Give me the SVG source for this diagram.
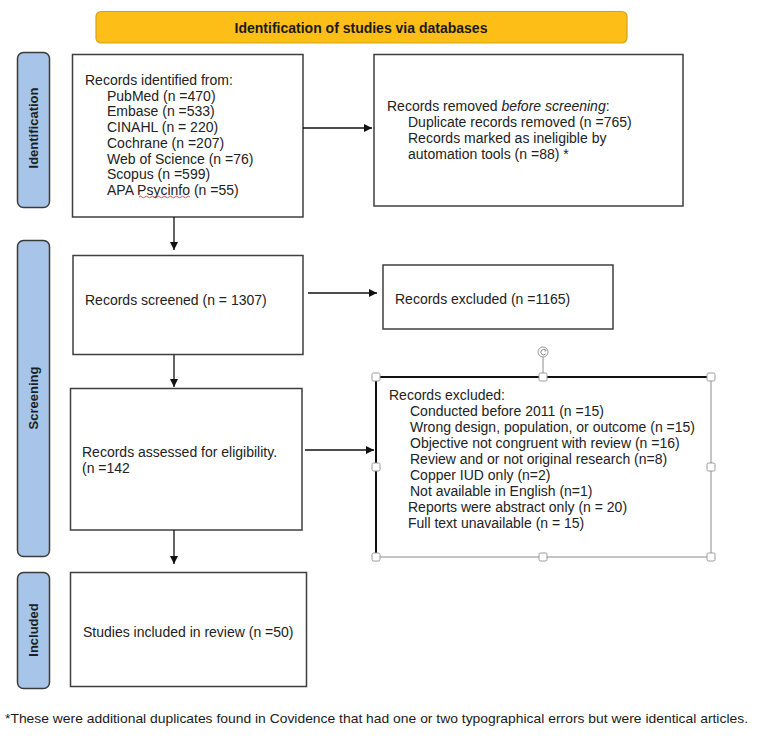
<svg xmlns="http://www.w3.org/2000/svg" width="768" height="753" viewBox="0 0 768 753">
<defs>
<style>
.box{fill:#fff;stroke:#3f3f3f;stroke-width:1.5}
.side{fill:#a7c5e8;stroke:#3a3a3a;stroke-width:1.5}
.t{font-family:"Liberation Sans",Arial,sans-serif;font-size:14px;fill:#222}
.sl{font-family:"Liberation Sans",Arial,sans-serif;font-size:13px;font-weight:bold;fill:#1b1f26}
.ln{stroke:#111;stroke-width:1.3;fill:none}
.hd{fill:#fff;stroke:#9a9a9a;stroke-width:1}
</style>
<marker id="ah" viewBox="0 0 10 10" refX="10" refY="5" markerWidth="8" markerHeight="8" markerUnits="userSpaceOnUse" orient="auto">
<path d="M0,0 L10,5 L0,10 Z" fill="#111"/>
</marker>
</defs>
<rect width="768" height="753" fill="#fff"/>

<g id="banner">
<rect x="96" y="11.5" width="531" height="31.5" rx="5" fill="#fdbf17" stroke="#d6a11c" stroke-width="1.2"/>
<text x="361" y="33" text-anchor="middle" font-family="'Liberation Sans',Arial,sans-serif" font-size="14" font-weight="bold" fill="#1a1a1a">Identification of studies via databases</text>
</g>

<g id="side-identification">
<rect class="side" x="17.5" y="52.5" width="32" height="155" rx="6"/>
<text class="sl" transform="translate(37.5,128) rotate(-90)" text-anchor="middle">Identification</text>
</g>
<g id="side-screening">
<rect class="side" x="17.5" y="240.5" width="32" height="316" rx="6"/>
<text class="sl" transform="translate(37.5,398) rotate(-90)" text-anchor="middle">Screening</text>
</g>
<g id="side-included">
<rect class="side" x="17.5" y="572.5" width="32" height="116" rx="6"/>
<text class="sl" transform="translate(37.5,630) rotate(-90)" text-anchor="middle">Included</text>
</g>

<g id="identified">
<rect class="box" x="72.5" y="54.5" width="230.5" height="162.5"/>
<text class="t" x="85" y="85">Records identified from:</text>
<text class="t" x="107" y="100.7">PubMed (n =470)</text>
<text class="t" x="107" y="116.4">Embase (n =533)</text>
<text class="t" x="107" y="132.1">CINAHL (n = 220)</text>
<text class="t" x="107" y="147.8">Cochrane (n =207)</text>
<text class="t" x="107" y="163.5">Web of Science (n =76)</text>
<text class="t" x="107" y="179.2">Scopus (n =599)</text>
<text class="t" x="107" y="194.9">APA Psycinfo (n =55)</text>
<path d="M139,197 q1.5,-1.6 3,0 t3,0 t3,0 t3,0 t3,0 t3,0 t3,0 t3,0 t3,0 t3,0 t3,0 t3,0 t3,0 t3,0 t3,0 t3,0 t3,0" fill="none" stroke="#d23a3a" stroke-width="0.9"/>
</g>

<g id="removed">
<rect class="box" x="374" y="54.5" width="309" height="151.5"/>
<text class="t" x="387" y="111">Records removed <tspan font-style="italic">before screening</tspan>:</text>
<text class="t" x="408" y="127">Duplicate records removed (n =765)</text>
<text class="t" x="408" y="143">Records marked as ineligible by</text>
<text class="t" x="408" y="159">automation tools (n =88) *</text>
</g>

<g id="screened">
<rect class="box" x="73" y="255.5" width="230" height="99"/>
<text class="t" x="85" y="305">Records screened (n = 1307)</text>
</g>

<g id="excluded1">
<rect class="box" x="383" y="265" width="230" height="64"/>
<text class="t" x="395" y="304">Records excluded (n =1165)</text>
</g>

<g id="assessed">
<rect class="box" x="70.5" y="388.5" width="231.5" height="141.5"/>
<text class="t" x="82" y="457">Records assessed for eligibility.</text>
<text class="t" x="82" y="473">(n =142</text>
</g>

<g id="excluded2">
<rect x="376" y="377" width="335" height="180" fill="#fff" stroke="#8a8a8a" stroke-width="1"/>
<path d="M376,557 L376,377 L711,377" fill="none" stroke="#111" stroke-width="2"/>
<text class="t" x="389" y="400">Records excluded:</text>
<text class="t" x="410" y="416">Conducted before 2011 (n =15)</text>
<text class="t" x="410" y="432">Wrong design, population, or outcome (n =15)</text>
<text class="t" x="410" y="448">Objective not congruent with review (n =16)</text>
<text class="t" x="410" y="464">Review and or not original research (n=8)</text>
<text class="t" x="410" y="480">Copper IUD only (n=2)</text>
<text class="t" x="410" y="496">Not available in English (n=1)</text>
<text class="t" x="408" y="512">Reports were abstract only (n = 20)</text>
<text class="t" x="408" y="528">Full text unavailable (n = 15)</text>
<line x1="543" y1="357" x2="543" y2="373" stroke="#8a8a8a" stroke-width="1"/>
<circle cx="543" cy="352" r="5" fill="#fff" stroke="#9a9a9a" stroke-width="1"/>
<path d="M545.4,350.2 A2.7,2.7 0 1 0 545.6,354" fill="none" stroke="#777" stroke-width="0.9"/>
<path d="M544.2,349.2 L546.2,350.2 L545,351.6" fill="none" stroke="#777" stroke-width="0.8"/>
<rect class="hd" x="372" y="373" width="8" height="8" rx="1.5"/>
<rect class="hd" x="539" y="373" width="8" height="8" rx="1.5"/>
<rect class="hd" x="707" y="373" width="8" height="8" rx="1.5"/>
<rect class="hd" x="372" y="463" width="8" height="8" rx="1.5"/>
<rect class="hd" x="707" y="463" width="8" height="8" rx="1.5"/>
<rect class="hd" x="372" y="553" width="8" height="8" rx="1.5"/>
<rect class="hd" x="539" y="553" width="8" height="8" rx="1.5"/>
<rect class="hd" x="707" y="553" width="8" height="8" rx="1.5"/>
</g>

<g id="included">
<rect class="box" x="70.5" y="572.5" width="236" height="114"/>
<text class="t" x="83" y="637">Studies included in review (n =50)</text>
</g>

<g id="connectors">
<line class="ln" x1="174" y1="217" x2="174" y2="250" marker-end="url(#ah)"/>
<line class="ln" x1="174" y1="355" x2="174" y2="387" marker-end="url(#ah)"/>
<line class="ln" x1="174" y1="530" x2="174" y2="564" marker-end="url(#ah)"/>
<line class="ln" x1="303" y1="128" x2="372" y2="128" marker-end="url(#ah)"/>
<line class="ln" x1="308" y1="293" x2="377" y2="293" marker-end="url(#ah)"/>
<line class="ln" x1="305" y1="450" x2="374" y2="450" marker-end="url(#ah)"/>
</g>

<g id="footnote">
<text x="5" y="723" font-family="'Liberation Sans',Arial,sans-serif" font-size="13.5" fill="#1a1a1a" textLength="743" lengthAdjust="spacingAndGlyphs">*These were additional duplicates found in Covidence that had one or two typographical errors but were identical articles.</text>
</g>
</svg>
